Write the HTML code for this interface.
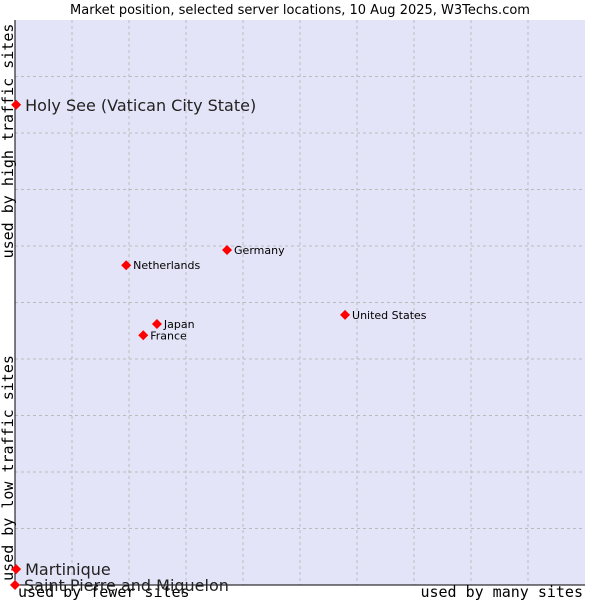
<!DOCTYPE html>
<html><head><meta charset="utf-8"><style>
body{margin:0;background:#fff;}
svg text{font-family:"DejaVu Sans","Liberation Sans",sans-serif;}
.mono{font-family:"DejaVu Sans Mono","Liberation Mono",monospace;font-size:15px;fill:#000;}
</style></head><body>
<svg id="chart" width="600" height="600">
<text x="300" y="14" text-anchor="middle" font-size="13">Market position, selected server locations, 10 Aug 2025, W3Techs.com</text>
<rect x="15" y="20" width="570" height="565" fill="#e4e4f8"/>
<g id="grid"></g>
<line x1="15" y1="20" x2="15" y2="585" stroke="#000"/>
<line x1="15" y1="585" x2="585" y2="585" stroke="#000"/>
<text class="mono" x="18" y="597">used by fewer sites</text>
<text class="mono" x="583" y="597" text-anchor="end">used by many sites</text>
<text class="mono" transform="translate(13,141) rotate(-90)" text-anchor="middle">used by high traffic sites</text>
<text class="mono" transform="translate(13,468) rotate(-90)" text-anchor="middle">used by low traffic sites</text>
<g id="points"></g>
</svg>
<script>
const names=["Holy See (Vatican City State)","Martinique","Saint Pierre and Miquelon","Netherlands","Germany","Japan","France","United States"];
const xVals=[0.2,0.2,0,19.5,37.2,24.9,22.5,57.9];
const yVals=[85,2.8,0,56.6,59.3,46.2,44.2,47.8];
const bigLabel=[true,true,true,false,false,false,false,false];
const ns="http://www.w3.org/2000/svg";
const X=v=>15+v*5.7, Y=v=>585-v*5.65;
const grid=document.getElementById('grid');
for(let i=1;i<10;i++){
  const l=document.createElementNS(ns,'line');
  l.setAttribute('x1',X(i*10));l.setAttribute('x2',X(i*10));l.setAttribute('y1',20);l.setAttribute('y2',585);
  l.setAttribute('stroke','#bbb');l.setAttribute('stroke-dasharray','3,3');
  
  
  grid.appendChild(l);
  const h=document.createElementNS(ns,'line');
  h.setAttribute('y1',Y(i*10));h.setAttribute('y2',Y(i*10));h.setAttribute('x1',15);h.setAttribute('x2',585);
  h.setAttribute('stroke','#bbb');h.setAttribute('stroke-dasharray','3,3');
  
  
  grid.appendChild(h);
}
const pts=document.getElementById('points');
names.forEach((n,i)=>{
  const cx=X(xVals[i]),cy=Y(yVals[i]);
  const d=document.createElementNS(ns,'path');
  d.setAttribute('d',`M${cx-5},${cy} L${cx},${cy-5} L${cx+5},${cy} L${cx},${cy+5} Z`);
  d.setAttribute('fill','#f00');
  
  
  pts.appendChild(d);
  const t=document.createElementNS(ns,'text');
  t.setAttribute('x',cx+(bigLabel[i]?9:7));
  t.setAttribute('y',cy+(bigLabel[i]?6:4));
  t.setAttribute('font-size',bigLabel[i]?'16':'11');
  t.setAttribute('fill',bigLabel[i]?'#222':'#000');
  t.textContent=n;
  
  
  pts.appendChild(t);
});
</script>
</body></html>
